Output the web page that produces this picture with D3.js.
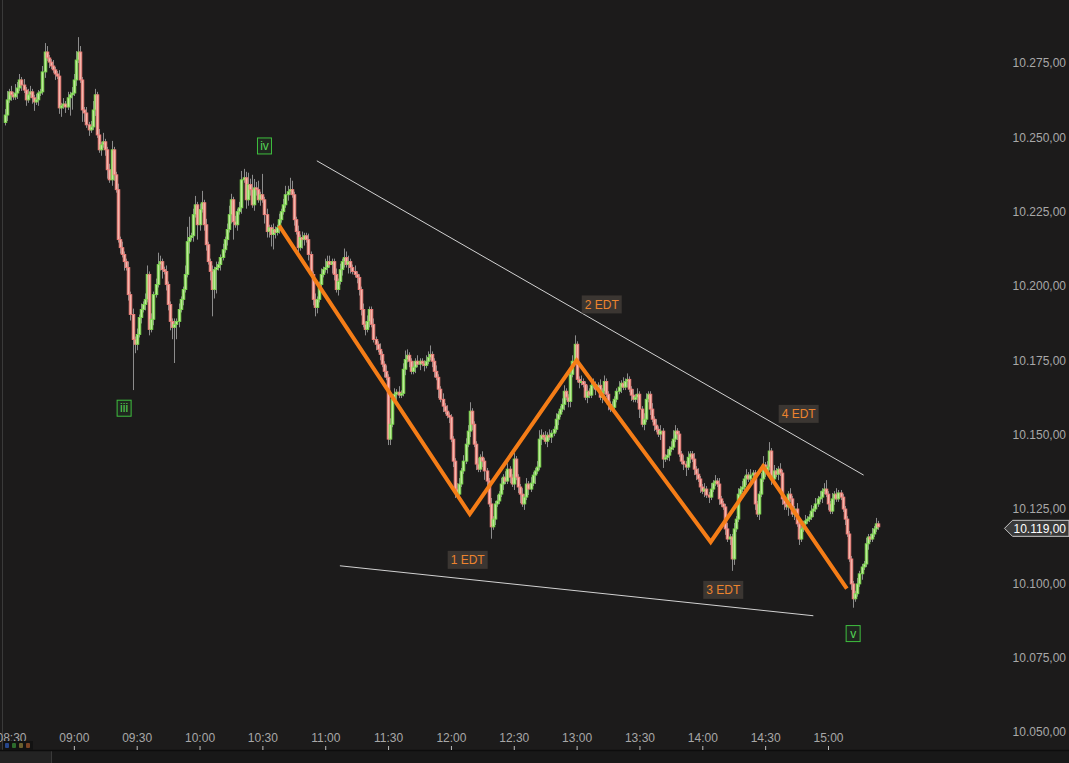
<!DOCTYPE html>
<html><head><meta charset="utf-8">
<script src="https://cdn.jsdelivr.net/npm/d3@7"></script>
<style>html,body{margin:0;padding:0;background:#1c1b1b;overflow:hidden}</style>
</head><body><svg id="c" width="1069" height="763"></svg>
<script>
const startTime = "08:27";
const firstOpen = 10255;
const closes = [
10257.5,10262.6,10265.3,10264.3,10263.6,10264.9,10266.6,10269.3,10267.6,10265.9,
10262.6,10264.3,10265.3,10263.3,10261.9,10262.6,10264.9,10265.3,10272.0,10278.7,
10276.7,10275.3,10274.0,10272.7,10271.3,10270.6,10259.9,10260.6,10261.2,10260.2,
10263.3,10264.3,10264.9,10269.3,10276.0,10278.7,10269.3,10259.2,10258.2,10254.2,
10252.5,10253.5,10259.2,10264.3,10250.8,10245.8,10247.5,10248.5,10245.8,10239.1,
10235.7,10245.8,10237.4,10232.4,10215.6,10212.9,10210.6,10208.2,10206.2,10197.1,
10190.4,10182.0,10180.4,10183.7,10189.4,10192.1,10193.8,10195.5,10203.9,10185.4,
10188.8,10197.1,10200.5,10207.2,10208.2,10205.5,10204.9,10200.5,10193.8,10188.1,
10186.1,10187.1,10188.1,10192.1,10195.5,10198.8,10203.9,10214.9,10216.3,10216.9,
10224.0,10227.3,10220.6,10225.7,10228.0,10220.6,10213.9,10208.2,10204.9,10198.8,
10205.5,10206.2,10207.2,10209.6,10212.2,10215.6,10219.0,10224.0,10229.0,10221.6,
10220.6,10225.0,10226.3,10235.7,10236.4,10229.0,10234.1,10232.4,10227.3,10233.0,
10232.4,10229.0,10230.7,10229.0,10224.0,10218.3,10219.6,10217.3,10219.0,10218.0,
10219.6,10222.3,10225.0,10227.3,10230.7,10231.7,10232.4,10230.7,10222.3,10218.3,
10212.9,10216.3,10215.6,10216.9,10215.6,10210.6,10203.9,10195.5,10192.8,10195.5,
10200.5,10203.9,10205.5,10206.2,10208.2,10207.2,10208.2,10203.9,10198.8,10201.5,
10205.5,10208.2,10209.6,10207.2,10208.2,10206.2,10204.9,10203.9,10202.9,10198.8,
10192.1,10187.1,10185.4,10188.1,10192.1,10187.1,10182.0,10180.4,10178.7,10177.0,
10173.7,10171.3,10169.3,10148.5,10153.5,10161.9,10163.6,10164.3,10163.3,10163.9,
10172.0,10175.3,10176.7,10174.7,10171.3,10172.7,10174.7,10173.7,10174.7,10174.0,
10173.3,10174.7,10176.0,10177.0,10174.7,10171.3,10169.3,10165.3,10161.9,10159.6,
10157.9,10156.5,10155.9,10148.5,10141.1,10131.7,10130.0,10133.4,10137.8,10141.1,
10146.8,10151.2,10157.9,10153.5,10146.8,10140.1,10138.4,10142.4,10141.1,10137.8,
10134.4,10126.7,10119.0,10121.6,10126.7,10127.7,10130.0,10133.4,10135.7,10134.4,
10138.4,10135.7,10133.4,10141.8,10135.7,10132.4,10130.0,10126.7,10129.0,10133.4,
10131.7,10133.7,10136.4,10137.8,10139.1,10148.5,10149.8,10149.2,10147.8,10149.8,
10149.2,10150.5,10151.8,10155.2,10156.9,10158.6,10160.2,10164.6,10162.6,10161.2,
10170.3,10174.7,10180.4,10168.6,10167.6,10167.9,10166.9,10162.6,10164.6,10163.3,
10166.6,10166.9,10165.3,10166.6,10162.6,10164.6,10167.9,10163.6,10160.2,10158.6,
10159.2,10161.9,10164.6,10166.0,10167.3,10166.0,10167.9,10168.6,10165.3,10163.3,
10161.9,10162.6,10163.6,10158.6,10153.5,10155.2,10161.9,10163.6,10158.6,10155.2,
10153.2,10151.8,10150.2,10151.2,10141.8,10142.4,10143.1,10145.1,10145.8,10148.5,
10151.2,10150.2,10143.5,10141.1,10140.1,10139.1,10142.4,10143.5,10141.8,10138.4,
10136.7,10135.1,10132.4,10131.0,10131.7,10129.7,10129.0,10131.7,10133.7,10134.4,
10133.4,10128.4,10126.7,10125.7,10118.3,10114.9,10115.6,10108.2,10118.3,10121.6,
10130.0,10131.7,10132.4,10135.1,10136.4,10135.1,10136.4,10137.1,10126.7,10123.3,
10130.0,10135.1,10139.8,10137.8,10139.1,10144.5,10135.1,10137.8,10136.7,10138.4,
10137.1,10128.4,10126.7,10125.7,10130.0,10128.4,10123.3,10125.0,10120.0,10114.9,
10118.3,10120.0,10121.0,10121.6,10122.3,10124.3,10125.0,10126.7,10128.4,10129.0,
10131.0,10131.7,10130.0,10126.7,10124.3,10128.4,10130.0,10128.4,10130.4,10129.0,
10125.0,10121.6,10116.6,10108.2,10099.8,10094.8,10096.5,10099.8,10103.2,10105.5,
10106.5,10113.3,10115.6,10114.9,10116.6,10118.3,10120.0,10119.0
];
const wickHigh = [
2,3,1,2,1,3,2,2,1,2, 1,2,2,1,1,2,1,1,2,3, 2,1,1,2,1,1,2,1,2,1, 2,1,2,2,3,5,2,1,1,2,
1,2,3,2,1,2,1,3,1,1, 2,3,1,1,2,1,2,1,1,2, 1,2,1,2,1,2,1,2,3,1, 2,1,2,4,2,1,1,2,1,1,
1,2,1,2,1,1,3,5,7,1, 2,3,1,2,4,1,2,1,1,2, 1,2,1,1,2,1,2,3,2,1, 2,1,2,3,3,2,4,2,5,3,
2,3,1,7,1,2,1,1,2,1, 1,2,1,2,3,2,4,3,1,1, 2,1,2,1,1,2,1,1,2,1, 1,2,1,3,2,2,1,1,2,1,
2,1,3,2,2,1,1,2,1,1, 1,2,1,2,1,1,2,1,1,2, 1,1,2,1,2,1,2,1,2,1, 2,3,2,1,1,2,1,2,1,1,
1,2,2,3,1,1,2,1,1,2, 1,2,1,1,1,1,2,2,1,2, 2,2,3,1,1,1,2,1,2,1, 1,1,2,1,1,2,1,2,1,2,
2,1,1,2,1,1,1,2,1,2, 1,2,1,1,2,3,2,1,2,1, 2,1,1,2,1,1,2,2,1,1, 1,2,3,1,1,2,1,1,2,1,
1,2,1,1,2,1,2,1,1,1, 2,1,1,2,1,2,1,2,1,1, 2,1,2,1,1,2,2,1,1,2, 1,2,1,2,1,1,2,1,2,3,
2,1,1,1,2,1,2,1,1,2, 1,2,1,1,2,1,1,2,1,2, 1,2,1,1,1,2,1,1,2,1, 2,1,2,1,2,1,2,1,1,1,
1,2,3,1,2,3,1,2,1,1, 2,1,1,2,1,2,1,1,2,1, 1,1,2,1,1,2,1,2,1,2, 1,2,3,1,1,2,1,2,1,1,
1,1,1,1,1,1,1,2,1,1, 1,2,1,1,2,1,2,1
];
const wickLow = [
1,2,1,2,1,1,2,1,2,1, 2,1,1,2,3,1,2,1,1,2, 1,2,1,1,2,1,2,3,1,2, 1,6,5,1,2,1,1,4,3,1,
2,1,1,2,1,1,2,1,2,3, 1,2,2,1,1,2,1,3,1,2, 2,17,3,2,1,2,1,2,1,2, 1,2,1,1,2,3,1,2,2,3,
4,12,5,2,1,2,1,1,4,1, 2,1,5,2,1,2,2,1,3,9, 3,8,1,2,1,1,2,1,3,6, 1,2,1,2,1,3,2,2,1,2,
2,1,2,1,3,2,2,4,5,2, 1,2,1,1,1,2,1,1,2,1, 2,1,3,2,1,2,1,2,3,2, 1,2,1,1,2,1,3,2,1,2,
1,2,2,1,3,2,1,1,2,2, 2,1,2,1,2,1,1,2,1,2, 1,2,1,2,2,1,1,2,1,1, 1,2,1,2,1,1,2,1,2,1,
2,1,1,1,2,2,1,3,1,2, 1,1,2,1,2,3,1,2,1,1, 1,1,2,2,1,2,1,1,2,3, 2,1,4,1,2,1,1,1,2,1,
1,2,1,2,1,2,3,1,2,1, 2,1,1,3,1,1,2,1,1,2, 1,2,1,1,2,1,1,2,1,2, 2,1,1,1,2,1,1,1,2,1,
1,1,2,1,1,2,1,1,2,1, 1,2,1,1,2,1,1,2,1,2, 1,1,2,3,1,2,1,1,2,1, 2,1,1,2,3,1,1,2,1,1,
1,2,1,1,2,3,1,2,1,2, 2,1,2,1,2,1,2,1,1,1, 1,2,1,1,2,1,2,4,2,1, 1,2,1,1,2,1,1,2,2,1,
2,1,1,2,1,1,2,1,1,2, 1,2,2,1,3,1,1,2,1,2, 1,1,2,1,1,1,2,1,1,1, 2,1,1,2,1,1,2,1,1,1,
1,2,1,1,2,3,1,1,1,2, 1,1,2,1,1,1,1,1
];
const timeTicks = ["08:30","09:00","09:30","10:00","10:30","11:00","11:30","12:00","12:30","13:00","13:30","14:00","14:30","15:00"];
const priceTicks = [10050,10075,10100,10125,10150,10175,10200,10225,10250,10275];
const lastPrice = 10119;
const zigzagTimes = ["10:38","12:09","13:00","14:04","14:29","15:09"];
const zigzagPrices = [10220.3,10123.3,10175.0,10113.9,10139.4,10098.2];
const upperTrendTimes = ["10:56","15:17"];
const upperTrendPrices = [10242.1,10136.4];
const lowerTrendTimes = ["11:07","14:53"];
const lowerTrendPrices = [10105.9,10089.1];
const edtNames = ["1 EDT","2 EDT","3 EDT","4 EDT"];
const edtTimes = ["12:08","13:12","14:10","14:46"];
const edtPrices = [10107.9,10193.8,10097.8,10157.0];
const waveNames = ["iii","iv","v"];
const waveTimes = ["09:24","10:31","15:12"];
const wavePrices = [10158.9,10247.1,10083.1];

const W = 1069, H = 763;
const svg = d3.select("#c");
const parse = d3.timeParse("%H:%M");
const x = d3.scaleTime().domain([parse("08:30"), parse("15:00")]).range([11, 828]);
const y = d3.scaleLinear().domain([10050, 10275]).range([732, 63]);
const loc = d3.formatLocale({decimal: ",", thousands: ".", grouping: [3], currency: ["", ""]});
const fmt = loc.format(",.2f");
const FONT = "'Liberation Sans', Arial, sans-serif";

svg.append("rect").attr("width", W).attr("height", H).attr("fill", "#1c1b1b");

// candles
const t0 = parse(startTime);
const candles = closes.map((c, i) => {
  const o = i === 0 ? firstOpen : closes[i - 1];
  return {t: d3.timeMinute.offset(t0, i), o, c,
    h: Math.max(o, c) + wickHigh[i], l: Math.min(o, c) - wickLow[i]};
});
const cg = svg.append("g");
cg.selectAll("line.w").data(candles).join("line")
  .attr("x1", d => Math.round(x(d.t)) + 0.5).attr("x2", d => Math.round(x(d.t)) + 0.5)
  .attr("y1", d => y(d.h)).attr("y2", d => y(d.l))
  .attr("stroke", "#8c8c8c").attr("stroke-width", 1);
cg.selectAll("rect.b").data(candles).join("rect")
  .attr("x", d => Math.round(x(d.t)) - 0.8)
  .attr("width", 2.6)
  .attr("y", d => y(Math.max(d.o, d.c)))
  .attr("height", d => Math.max(1.2, Math.abs(y(d.o) - y(d.c))))
  .attr("fill", d => d.c >= d.o ? "#bdeb98" : "#f5b6ac")
  .attr("stroke", d => d.c >= d.o ? "#78d64a" : "#ec7b76")
  .attr("stroke-width", 0.9);

// trend lines
const line = d3.line().x(d => x(parse(d[0]))).y(d => y(d[1]));
svg.append("path").attr("d", line(upperTrendTimes.map((t, i) => [t, upperTrendPrices[i]])))
  .attr("stroke", "#d2d2d2").attr("stroke-width", 1).attr("fill", "none");
svg.append("path").attr("d", line(lowerTrendTimes.map((t, i) => [t, lowerTrendPrices[i]])))
  .attr("stroke", "#d2d2d2").attr("stroke-width", 1).attr("fill", "none");
// zigzag
svg.append("path").attr("d", line(zigzagTimes.map((t, i) => [t, zigzagPrices[i]])))
  .attr("stroke", "#f57d17").attr("stroke-width", 4).attr("fill", "none")
  .attr("stroke-linejoin", "miter");

// EDT labels
edtNames.forEach((n, i) => {
  const cx = x(parse(edtTimes[i])), cy = y(edtPrices[i]);
  svg.append("rect").attr("x", cx - 20).attr("y", cy - 9).attr("width", 40).attr("height", 18)
    .attr("fill", "#3b3632");
  svg.append("text").attr("x", cx).attr("y", cy + 4.5).attr("text-anchor", "middle")
    .attr("font-family", FONT).attr("font-size", 12).attr("fill", "#ec842e").text(n);
});
// wave labels
waveNames.forEach((n, i) => {
  const cx = x(parse(waveTimes[i])), cy = y(wavePrices[i]);
  svg.append("rect").attr("x", cx - 7).attr("y", cy - 8).attr("width", 14).attr("height", 16)
    .attr("fill", "#1f261f").attr("stroke", "#3fbf3f").attr("stroke-width", 1);
  svg.append("text").attr("x", cx).attr("y", cy + 4).attr("text-anchor", "middle")
    .attr("font-family", FONT).attr("font-size", 12).attr("fill", "#56d456").text(n);
});

// price axis
const ya = svg.append("g").attr("transform", "translate(1066,0)")
  .call(d3.axisLeft(y).tickValues(priceTicks).tickFormat(fmt).tickSize(0).tickPadding(0));
ya.select(".domain").remove();
ya.selectAll("text").attr("font-family", FONT).attr("font-size", 12).attr("fill", "#a8a8a8");

// last price tag
const ty = y(lastPrice) + 1.5;
svg.append("path")
  .attr("d", `M1004.5,${ty} L1012.5,${ty - 8} L1069,${ty - 8} L1069,${ty + 8} L1012.5,${ty + 8} Z`)
  .attr("fill", "#3a3a3a").attr("stroke", "#c8c8c8").attr("stroke-width", 1);
svg.append("text").attr("x", 1066).attr("y", ty + 4.5).attr("text-anchor", "end")
  .attr("font-family", FONT).attr("font-size", 12).attr("fill", "#ffffff").text(fmt(lastPrice));

// left border
svg.append("line").attr("x1", 2.5).attr("x2", 2.5).attr("y1", 0).attr("y2", 750)
  .attr("stroke", "#3a3a3a");

// bottom strip
svg.append("rect").attr("x", 0).attr("y", 751).attr("width", W).attr("height", 12).attr("fill", "#181818");
svg.append("rect").attr("x", 0).attr("y", 751).attr("width", 51).attr("height", 12).attr("fill", "#232323");
svg.append("line").attr("x1", 51.5).attr("x2", 51.5).attr("y1", 751).attr("y2", 763).attr("stroke", "#3a3a3a");
svg.append("line").attr("x1", 0).attr("x2", W).attr("y1", 750.5).attr("y2", 750.5).attr("stroke", "#0d0d0d").attr("stroke-width", 1.5);

// time axis
const xa = svg.append("g").attr("transform", "translate(0,750)")
  .call(d3.axisTop(x).tickValues(timeTicks.map(parse)).tickFormat(d3.timeFormat("%H:%M")).tickSize(4).tickPadding(4));
xa.select(".domain").remove();
xa.selectAll("line").attr("stroke", "#bdbdbd");
xa.selectAll("text").attr("font-family", FONT).attr("font-size", 12).attr("fill", "#a8a8a8");

// small colour squares
svg.append("rect").attr("x", 3).attr("y", 741).attr("width", 30).attr("height", 9).attr("fill", "#121212");
["#27468a", "#2c6b2c", "#6b5f2e", "#7a4223"].forEach((c, i) => {
  svg.append("rect").attr("x", 5 + i * 7).attr("y", 743).attr("width", 4).attr("height", 5)
    .attr("rx", 1).attr("fill", c);
});
</script></body></html>
